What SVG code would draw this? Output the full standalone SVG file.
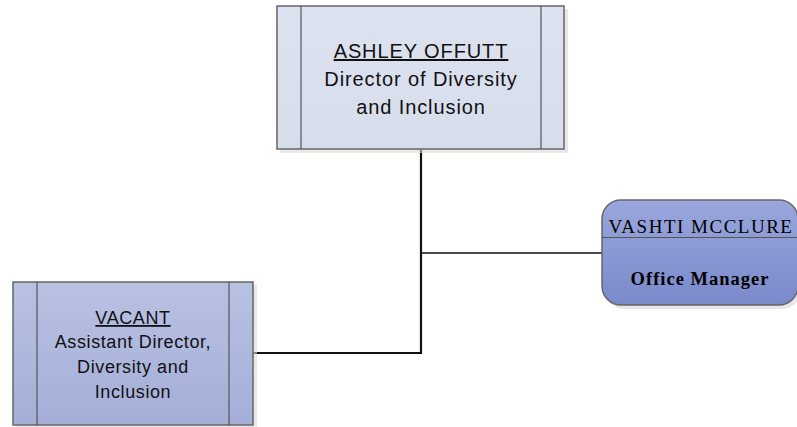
<svg xmlns="http://www.w3.org/2000/svg" width="797" height="427" viewBox="0 0 797 427">
<defs>
<linearGradient id="gTop" x1="0" y1="0" x2="0" y2="1"><stop offset="0" stop-color="#dde2f0"/><stop offset="1" stop-color="#d8ddec"/></linearGradient>
<linearGradient id="gLeft" x1="0" y1="0" x2="0" y2="1"><stop offset="0" stop-color="#b9c1e3"/><stop offset="1" stop-color="#a4aed7"/></linearGradient>
<linearGradient id="gRight" x1="0" y1="0" x2="0" y2="1"><stop offset="0" stop-color="#9aa7dd"/><stop offset="1" stop-color="#7a89cb"/></linearGradient>
</defs>
<style>
.shadow{fill:#d9d9d9;opacity:0.6}
.box{stroke:#666;stroke-width:1.5}
.inner{stroke:#555;stroke-width:1.2}
.sans{font-family:"Liberation Sans",Arial,sans-serif;fill:#111;text-anchor:middle}
.serif{font-family:"Liberation Serif","Times New Roman",serif;fill:#000;text-anchor:middle}
.conn{fill:none;stroke:#111}
</style>
<g id="connectors">
<polyline class="conn" stroke-width="2.2" points="421,149 421,353 253,353"/>
<line class="conn" stroke-width="1.3" x1="421" y1="253" x2="602" y2="253"/>
</g>
<g id="node-ashley">
<rect class="shadow" x="280" y="9" width="288" height="144"/>
<rect class="box" x="277" y="6" width="287" height="143" fill="url(#gTop)"/>
<line class="inner" x1="301" y1="6" x2="301" y2="149"/>
<line class="inner" x1="541" y1="6" x2="541" y2="149"/>
<text class="sans" font-size="20" letter-spacing="0.9" x="421" y="58" text-decoration="underline">ASHLEY OFFUTT</text>
<text class="sans" font-size="20" letter-spacing="0.9" x="421" y="86">Director of Diversity</text>
<text class="sans" font-size="20" letter-spacing="0.9" x="421" y="114">and Inclusion</text>
</g>
<g id="node-vacant">
<rect class="shadow" x="16" y="285" width="241" height="145"/>
<rect class="box" x="13" y="282" width="240" height="143" fill="url(#gLeft)"/>
<line class="inner" x1="37" y1="282" x2="37" y2="425"/>
<line class="inner" x1="229" y1="282" x2="229" y2="425"/>
<text class="sans" font-size="18" letter-spacing="0.6" x="133" y="324" text-decoration="underline">VACANT</text>
<text class="sans" font-size="18" letter-spacing="0.6" x="133" y="348">Assistant Director,</text>
<text class="sans" font-size="18" letter-spacing="0.6" x="133" y="373">Diversity and</text>
<text class="sans" font-size="18" letter-spacing="0.6" x="133" y="398">Inclusion</text>
</g>
<g id="node-vashti">
<rect class="shadow" x="605" y="203" width="196" height="106" rx="19"/>
<rect class="box" x="602" y="200" width="196" height="105" rx="19" fill="url(#gRight)"/>
<line class="inner" x1="602" y1="237.5" x2="798" y2="237.5"/>
<text class="serif" font-size="19" letter-spacing="1.5" x="701" y="233">VASHTI MCCLURE</text>
<text class="serif" font-size="18.5" font-weight="bold" letter-spacing="1" x="700" y="285">Office Manager</text>
</g>
</svg>
